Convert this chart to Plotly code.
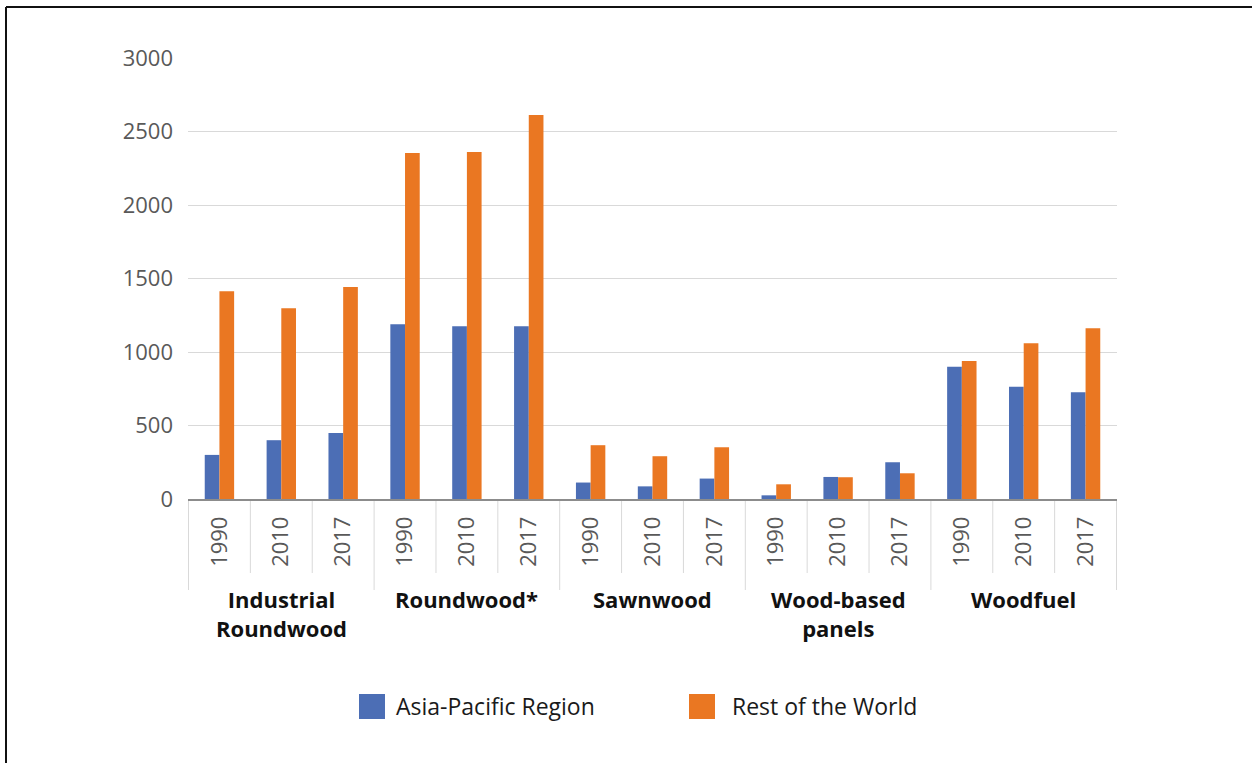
import plotly.graph_objects as go

# Wood products, Asia-Pacific vs rest of the world (million m3 / tonnes)
products = ["Industrial<br>Roundwood", "Roundwood*", "Sawnwood", "Wood-based<br>panels", "Woodfuel"]
years = ["1990", "2010", "2017"]

asia_pacific = [300, 400, 449,
                1188, 1176, 1176,
                112, 86, 139,
                25, 150, 250,
                899, 763, 727]
rest_of_world = [1414, 1297, 1442,
                 2354, 2361, 2612,
                 366, 291, 352,
                 100, 148, 175,
                 938, 1060, 1162]

series_names = ["Asia-Pacific Region", "Rest of the World"]
colors = ["#4C6EB5", "#EA7722"]

W, H = 1252, 763
ML, MR, MT, MB = 188, 135, 58, 264
PW, PH = W - ML - MR, H - MT - MB

# one unique category per (product, year) pair; ticks show the year only
keys = [f"{p.replace('<br>', ' ')} {y}" for p in products for y in years]
year_text = [y for _ in products for y in years]

fig = go.Figure()
for name, vals, col in zip(series_names, [asia_pacific, rest_of_world], colors):
    fig.add_trace(go.Bar(x=keys, y=vals, name=name,
                         marker=dict(color=col, line=dict(width=0)), showlegend=False))

fig.update_layout(
    width=W, height=H,
    margin=dict(l=ML, r=MR, t=MT, b=MB),
    paper_bgcolor="white", plot_bgcolor="white",
    barmode="group", bargap=0.525, bargroupgap=0,
    font=dict(family="Open Sans", size=22, color="#595959"),
)

fig.update_xaxes(
    type="category", categoryorder="array", categoryarray=keys,
    tickvals=keys, ticktext=year_text,
    showline=True, linecolor="#8c8c8c", linewidth=1.5,
    ticks="", tickangle=-90, ticklabelstandoff=7,
    tickfont=dict(family="Open Sans", size=22, color="#595959"),
    showgrid=False,
)
fig.update_yaxes(
    range=[0, 3000], tickvals=[0, 500, 1000, 1500, 2000, 2500, 3000],
    showgrid=True, gridcolor="#d9d9d9", gridwidth=1,
    zeroline=False, showline=False, ticks="",
    ticklabelstandoff=14,
    tickfont=dict(family="Open Sans", size=22, color="#595959"),
)

def py_to_paper(py):
    return (H - MB - py) / PH

def px_to_paper(px, py):
    return (px - ML) / PW, py_to_paper(py)

# Category separators below the axis: short between years, longer between products
n_years = len(years)
for i in range(len(keys) + 1):
    bottom = 590 if i % n_years == 0 else 573
    fig.add_shape(type="line", xref="x", yref="paper", x0=i - 0.5, x1=i - 0.5,
                  y0=0, y1=py_to_paper(bottom), line=dict(color="#d9d9d9", width=1), layer="below")

# Product names under each group of years
for g, p in enumerate(products):
    fig.add_annotation(xref="x", yref="paper", x=g * n_years + (n_years - 1) / 2, y=py_to_paper(582),
                       text=f"<b>{p}</b>", showarrow=False, xanchor="center", yanchor="top",
                       font=dict(family="Open Sans", size=22, color="#111111"))

# Outer frame (top and left edges)
x0, y0 = px_to_paper(6, 7)
x1, _ = px_to_paper(W + 2, 7)
_, y1 = px_to_paper(6, H + 2)
fig.add_shape(type="line", xref="paper", yref="paper", x0=x0, y0=y0, x1=x1, y1=y0,
              line=dict(color="#111111", width=2))
fig.add_shape(type="line", xref="paper", yref="paper", x0=x0, y0=y0, x1=x0, y1=y1,
              line=dict(color="#111111", width=2))

# Legend: coloured squares with labels
legend_pos = [(359, 394), (689, 730)]
for (sx, tx), name, col in zip(legend_pos, series_names, colors):
    ax0, ay0 = px_to_paper(sx, 694)
    ax1, ay1 = px_to_paper(sx + 26, 719)
    fig.add_shape(type="rect", xref="paper", yref="paper", x0=ax0, x1=ax1, y0=ay1, y1=ay0,
                  fillcolor=col, line=dict(width=0))
    lx, ly = px_to_paper(tx, 706)
    fig.add_annotation(xref="paper", yref="paper", x=lx, y=ly, text=name, showarrow=False,
                       xanchor="left", yanchor="middle",
                       font=dict(family="Open Sans", size=23, color="#1a1a1a"))

fig.write_html("out.html")
